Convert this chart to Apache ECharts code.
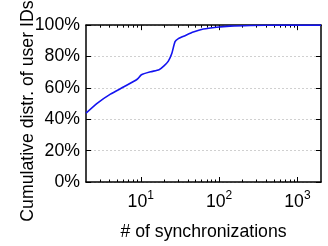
<!DOCTYPE html>
<html>
<head>
<meta charset="utf-8">
<script src="https://cdn.jsdelivr.net/npm/echarts@6/dist/echarts.min.js"></script>
<style>
  html, body { margin: 0; padding: 0; background: #fff; }
  #chart { width: 328px; height: 246px; }
</style>
</head>
<body>
<div id="chart"></div>
<script>
// number of synchronizations per user ID (log scale)
const syncCounts = [2, 2.8, 4.1, 6.1, 9, 10.2, 13.4, 17.1, 19.8, 22.5, 24.9, 27.4, 30.2, 36.7, 46.9, 63, 93, 138, 250, 600, 2000];
// cumulative share of user IDs, %
const cdfValues = [43.9, 50.3, 56, 60.7, 65.5, 68.4, 70.3, 71.6, 74.1, 77.1, 81.9, 89.5, 91.4, 93.3, 95.6, 97.5, 98.7, 99.4, 99.8, 100, 100];
const majorTicks = [10, 100, 1000];
const minorTicks = [3, 4, 5, 6, 7, 8, 9, 20, 30, 40, 50, 60, 70, 80, 90, 200, 300, 400, 500, 600, 700, 800, 900];

const font = 'Liberation Sans';
const fs = 17.7;
const black = '#000';

const chart = echarts.init(document.getElementById('chart'));

function xAxisDef(position, ticks, len, withLine, withLabel) {
  return {
    type: 'log',
    logBase: 10,
    position: position,
    min: 2,
    max: 2000,
    name: withLabel ? '# of synchronizations' : '',
    nameLocation: 'middle',
    nameGap: 41,
    nameMoveOverlap: false,
    nameTextStyle: { fontFamily: font, fontSize: fs, color: black },
    axisLine: { show: withLine, lineStyle: { color: black, width: 1.5 } },
    axisTick: { show: true, inside: true, length: len, customValues: ticks,
      lineStyle: { color: black, width: 1 } },
    axisLabel: {
      show: withLabel,
      customValues: majorTicks,
      margin: 8,
      fontFamily: font,
      color: black,
      formatter: function (v) {
        return '{b|10}{s|' + Math.round(Math.log10(v)) + '}';
      },
      rich: {
        b: { fontFamily: font, fontSize: fs, color: black },
        s: { fontFamily: font, fontSize: 12, color: black, padding: [0, 0, 13, 0] }
      }
    },
    splitLine: { show: false },
    minorTick: { show: false }
  };
}

function yAxisDef(position, withLabel) {
  return {
    type: 'value',
    position: position,
    min: 0,
    max: 100,
    interval: 20,
    name: withLabel ? 'Cumulative distr. of user IDs' : '',
    nameLocation: 'middle',
    nameGap: 49,
    nameMoveOverlap: false,
    nameTextStyle: { fontFamily: font, fontSize: fs, color: black, padding: [0, 15, 0, 0] },
    axisLine: { show: true, lineStyle: { color: black, width: 1.5 } },
    axisTick: { show: true, inside: true, length: 5, lineStyle: { color: black, width: 1 } },
    axisLabel: {
      show: withLabel,
      margin: 6,
      fontFamily: font,
      fontSize: fs,
      color: black,
      formatter: '{value}%'
    },
    splitLine: {
      show: withLabel,
      lineStyle: { color: '#d0d0d0', type: [2, 2], width: 1 }
    }
  };
}

const option = {
  animation: false,
  backgroundColor: '#fff',
  grid: { left: 86, right: 7, top: 14, bottom: 59 },
  xAxis: [
    xAxisDef('bottom', majorTicks, 5, true, true),
    xAxisDef('bottom', minorTicks, 2.5, false, false),
    xAxisDef('top', majorTicks, 5, true, false),
    xAxisDef('top', minorTicks, 2.5, false, false)
  ],
  yAxis: [
    yAxisDef('left', true),
    yAxisDef('right', false)
  ],
  series: [
    {
      type: 'line',
      xAxisIndex: 0,
      yAxisIndex: 0,
      data: syncCounts.map(function (x, i) { return [x, cdfValues[i]]; }),
      showSymbol: false,
      smooth: 0.2,
      lineStyle: { color: '#1414f0', width: 1.6 },
      silent: true
    }
  ]
};

chart.setOption(option);
</script>
</body>
</html>
